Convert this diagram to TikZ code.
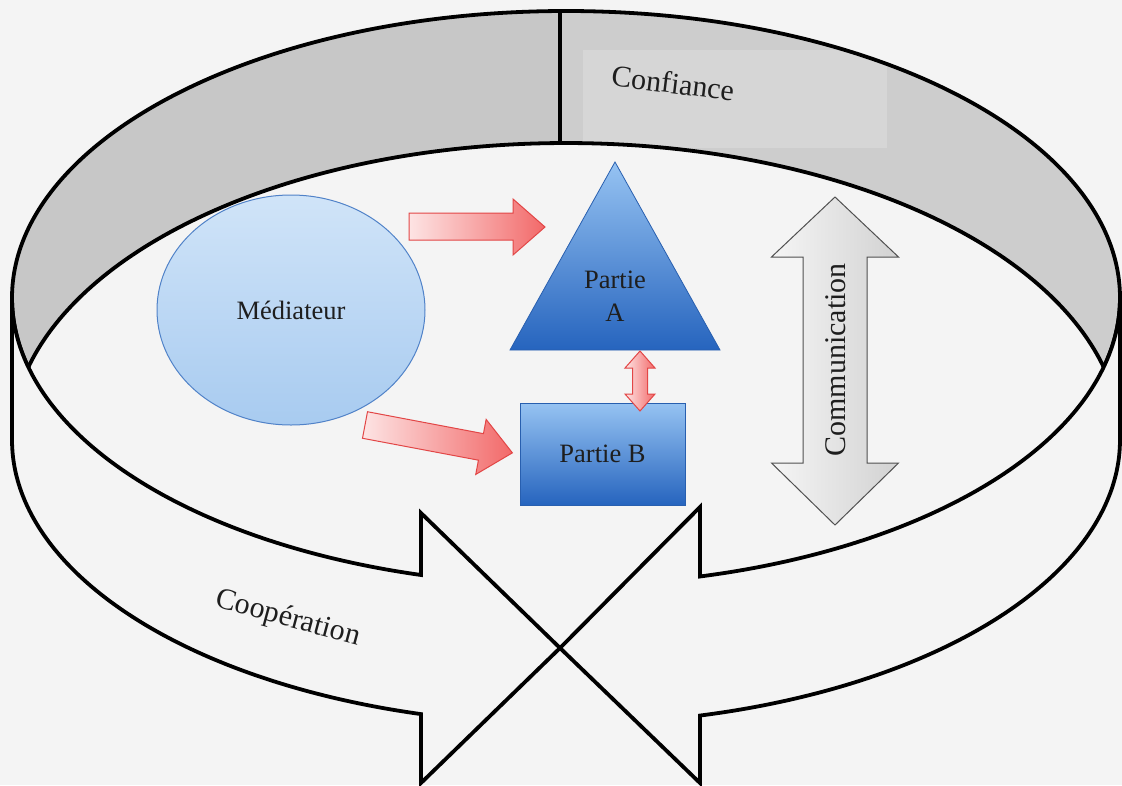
\documentclass[tikz,border=0pt]{standalone}
\usepackage{fontspec}
\setmainfont{Liberation Serif}
\usetikzlibrary{shapes.geometric}
\definecolor{bg}{RGB}{244,244,244}
\definecolor{ringgray}{RGB}{199,199,199}
\definecolor{ringgrayR}{RGB}{205,205,205}
\definecolor{boxgray}{RGB}{214,214,214}
\definecolor{medTop}{RGB}{208,228,248}
\definecolor{medBot}{RGB}{168,203,240}
\definecolor{medLine}{RGB}{80,130,200}
\definecolor{blueTop}{RGB}{150,195,242}
\definecolor{blueBot}{RGB}{38,100,190}
\definecolor{blueLine}{RGB}{40,95,175}
\definecolor{redL}{RGB}{253,228,228}
\definecolor{redR}{RGB}{242,105,105}
\definecolor{redLine}{RGB}{226,70,70}
\definecolor{commL}{RGB}{245,245,245}
\definecolor{commR}{RGB}{210,210,210}
\definecolor{commLine}{RGB}{80,80,80}
\definecolor{txt}{RGB}{30,30,30}
\tikzset{
  ring/.style={line width=3.8pt, black, line join=miter},
  bandlabel/.style={font=\fontsize{30}{32}\selectfont, text=txt, inner sep=0pt},
  innerlabel/.style={font=\fontsize{26.5}{33}\selectfont, text=txt, inner sep=0pt, align=center},
  redarrow/.style={left color=redL, right color=redR, draw=redLine, line width=1pt, line join=miter},
}
\begin{document}
\begin{tikzpicture}[x=1pt,y=-1pt]
\useasboundingbox (0,0) rectangle (1122,785);
\fill[bg] (0,0) rectangle (1122,785);

% back inner wall (gray crescent)
\fill[ringgray] (566,298) ellipse [x radius=554, y radius=287];
\begin{scope}
  \clip (566,298) ellipse [x radius=554, y radius=287];
  \fill[ringgrayR] (560,0) rectangle (1122,420);
  \fill[boxgray] (583,50) rectangle (887,148);
\end{scope}
\draw[ring] (566,298) ellipse [x radius=554, y radius=287];
\fill[bg] (566,441) ellipse [x radius=555, y radius=298];
\draw[ring] plot[domain=194:346, samples=150] ({566+555*cos(\x)},{441+298*sin(\x)});
\draw[ring] (560,11) -- (560,143);

% front band: two curved arrows meeting at the bottom
\draw[ring, fill=bg] plot[domain=180:105.17, samples=100] ({566+554*cos(\x)},{298+287*sin(\x)})
   -- (421,513) -- (560,648) -- (421,783)
   -- plot[domain=105.17:180, samples=100] ({566+554*cos(\x)},{440+284*sin(\x)}) -- cycle;
\draw[ring, fill=bg] plot[domain=0:76.0, samples=100] ({566+554*cos(\x)},{298+287*sin(\x)})
   -- (700,507) -- (560,648) -- (700,783)
   -- plot[domain=76.0:0, samples=100] ({566+554*cos(\x)},{440+284*sin(\x)}) -- cycle;

% labels on the ring
\node[bandlabel, rotate=-7] (confiance) at (673,83) {Confiance};
\node[bandlabel, rotate=-15] (cooperation) at (288,619) {Coopération};

% Médiateur
\node[ellipse, minimum width=268pt, minimum height=230pt, inner sep=0pt,
      top color=medTop, bottom color=medBot, draw=medLine, line width=1pt,
      innerlabel] (med) at (291,310) {Médiateur};

% Partie A (triangle)
\draw[top color=blueTop, bottom color=blueBot, draw=blueLine, line width=0.8pt]
  (615,162) -- (720,350) -- (510,350) -- cycle;
\node[innerlabel] (partieA) at (615,296) {Partie\\A};

% Partie B (rectangle)
\node[minimum width=165pt, minimum height=102pt, inner sep=0pt,
      top color=blueTop, bottom color=blueBot, draw=blueLine, line width=0.8pt,
      innerlabel] (partieB) at (602.5,454) {Partie B};

% red arrows
\draw[redarrow] (409,213) -- (513,213) -- (513,199) -- (545,227) -- (513,255) -- (513,240) -- (409,240) -- cycle;
\begin{scope}[shift={(365,425)}, rotate=-10.7]
  \draw[redarrow] (0,-13.5) -- (118,-13.5) -- (118,-28) -- (150,0) -- (118,28) -- (118,13.5) -- (0,13.5) -- cycle;
\end{scope}
\draw[redarrow] (640,351) -- (655,368) -- (647.5,368) -- (647.5,394) -- (655,394) -- (640,411)
  -- (625,394) -- (632.5,394) -- (632.5,368) -- (625,368) -- cycle;

% Communication double arrow
\draw[left color=commL, right color=commR, draw=commLine, line width=1pt, line join=miter]
  (835,197) -- (898.5,257) -- (867,257) -- (867,463) -- (898.5,463) -- (835,525)
  -- (771.5,463) -- (803,463) -- (803,257) -- (771.5,257) -- cycle;
\node[bandlabel, rotate=90] (comm) at (836,360) {Communication};
\end{tikzpicture}
\end{document}
